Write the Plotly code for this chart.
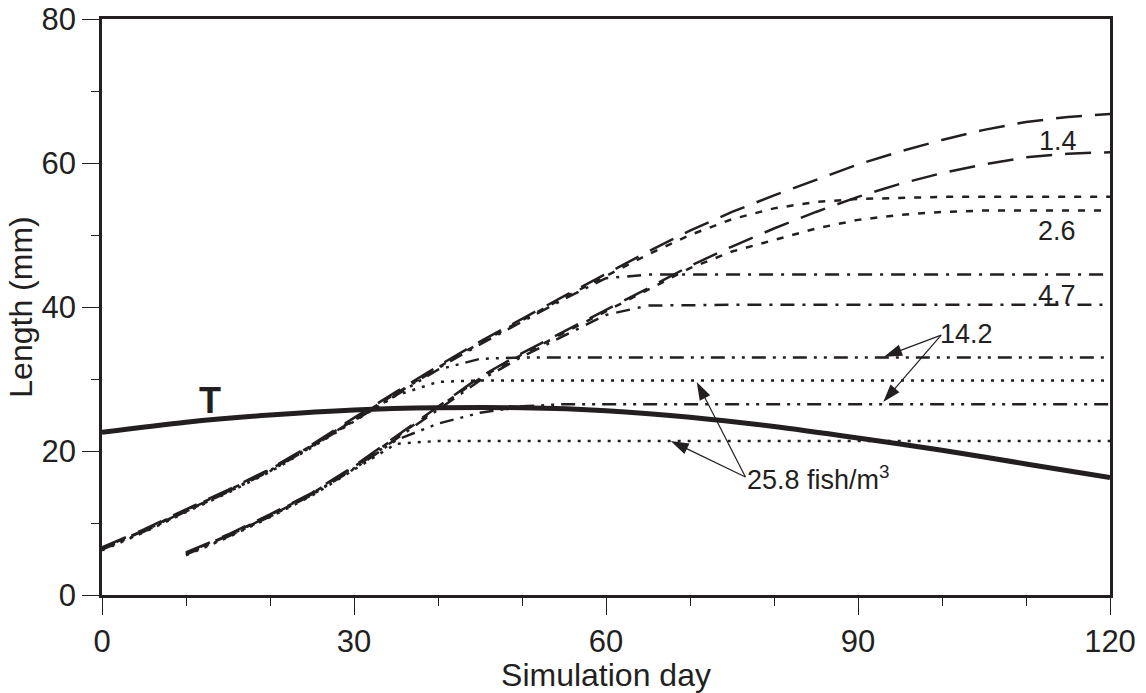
import plotly.graph_objects as go

# ---------------- data ----------------
A_DAYS = [0, 5, 10, 15, 20, 25, 30, 35, 40, 45, 50, 55, 60, 65, 70, 75, 80, 85, 90, 95, 100, 105, 110, 115, 120]
A_1_4 = [6.6, 9.1, 11.9, 14.6, 17.5, 20.9, 24.6, 28.2, 31.8, 35.2, 38.4, 41.5, 44.6, 47.7, 50.6, 53.2, 55.5, 57.7, 59.8, 61.6, 63.2, 64.6, 65.7, 66.4, 66.8]
A_2_6 = [6.5, 9.0, 11.8, 14.5, 17.4, 20.8, 24.4, 28.0, 31.6, 35.0, 38.2, 41.3, 44.3, 47.3, 50.0, 52.2, 53.7, 54.6, 55.0, 55.2, 55.3, 55.3, 55.3, 55.3, 55.3]
A_4_7 = [6.4, 8.9, 11.7, 14.4, 17.3, 20.7, 24.3, 27.9, 31.5, 34.8, 38.0, 41.1, 44.0, 44.5, 44.5, 44.5, 44.5, 44.5, 44.5, 44.5, 44.5, 44.5, 44.5, 44.5, 44.5]
A_14_2 = [6.3, 8.8, 11.6, 14.3, 17.2, 20.6, 24.2, 27.8, 31.3, 32.8, 33.0, 33.0, 33.0, 33.0, 33.0, 33.0, 33.0, 33.0, 33.0, 33.0, 33.0, 33.0, 33.0, 33.0, 33.0]
A_25_8 = [6.2, 8.7, 11.5, 14.2, 17.1, 20.5, 24.1, 27.7, 29.6, 29.8, 29.8, 29.8, 29.8, 29.8, 29.8, 29.8, 29.8, 29.8, 29.8, 29.8, 29.8, 29.8, 29.8, 29.8, 29.8]

B_DAYS = [10, 15, 20, 25, 30, 35, 40, 45, 50, 55, 60, 65, 70, 75, 80, 85, 90, 95, 100, 105, 110, 115, 120]
B_1_4 = [5.9, 8.4, 11.2, 14.2, 17.9, 22.0, 26.2, 30.3, 33.6, 36.6, 39.5, 42.6, 45.7, 48.4, 50.9, 53.2, 55.3, 57.1, 58.6, 59.8, 60.8, 61.3, 61.5]
B_2_6 = [5.8, 8.3, 11.1, 14.1, 17.8, 21.9, 26.0, 30.1, 33.4, 36.4, 39.3, 42.4, 45.4, 47.7, 49.3, 50.9, 52.1, 52.8, 53.2, 53.4, 53.4, 53.4, 53.4]
B_4_7 = [5.7, 8.2, 11.0, 14.0, 17.6, 21.7, 25.8, 29.8, 33.1, 36.0, 38.9, 40.2, 40.3, 40.3, 40.3, 40.3, 40.3, 40.3, 40.3, 40.3, 40.3, 40.3, 40.3]
B_14_2 = [5.6, 8.1, 10.9, 13.9, 17.5, 21.5, 23.8, 25.3, 26.2, 26.5, 26.5, 26.5, 26.5, 26.5, 26.5, 26.5, 26.5, 26.5, 26.5, 26.5, 26.5, 26.5, 26.5]
B_25_8 = [5.5, 8.0, 10.8, 13.8, 17.4, 21.0, 21.4, 21.4, 21.4, 21.4, 21.4, 21.4, 21.4, 21.4, 21.4, 21.4, 21.4, 21.4, 21.4, 21.4, 21.4, 21.4, 21.4]

T_DAYS = [0, 10, 20, 30, 40, 50, 60, 70, 80, 90, 100, 110, 120]
T_VALUES = [22.6, 24.0, 25.0, 25.7, 26.0, 26.0, 25.6, 24.7, 23.4, 21.8, 20.1, 18.2, 16.3]

DENSITY_LABELS = ["1.4", "2.6", "4.7", "14.2", "25.8 fish/m<sup>3</sup>"]
X_TICKS = [0, 30, 60, 90, 120]
Y_TICKS = [0, 20, 40, 60, 80]

# ---------------- styling ----------------
INK = "#231f20"
FONT = "Liberation Sans, Arial, Helvetica, sans-serif"
DASHES = {
    "1.4": "26px,13px",
    "2.6": "7px,9px",
    "4.7": "14px,8px,3px,8px",
    "14.2": "14px,7px,3px,7px,3px,7px",
    "25.8": "3px,7px",
}

fig = go.Figure()

series = [
    (A_DAYS, A_1_4, "1.4"), (A_DAYS, A_2_6, "2.6"), (A_DAYS, A_4_7, "4.7"),
    (A_DAYS, A_14_2, "14.2"), (A_DAYS, A_25_8, "25.8"),
    (B_DAYS, B_1_4, "1.4"), (B_DAYS, B_2_6, "2.6"), (B_DAYS, B_4_7, "4.7"),
    (B_DAYS, B_14_2, "14.2"), (B_DAYS, B_25_8, "25.8"),
]
for xs, ys, key in series:
    fig.add_trace(go.Scatter(
        x=xs, y=ys, mode="lines", name=key, showlegend=False, hoverinfo="skip",
        line=dict(color=INK, width=2.5, dash=DASHES[key]),
    ))

fig.add_trace(go.Scatter(
    x=T_DAYS, y=T_VALUES, mode="lines", name="T", showlegend=False, hoverinfo="skip",
    line=dict(color=INK, width=5, shape="spline", smoothing=0.8),
))

# pointer arrows from the labels to the curves: (tail_x, tail_y) -> (head_x, head_y)
arrows = [
    (99.9, 36.1, 93.1, 33.1),
    (99.9, 36.1, 93.0, 26.8),
    (76.6, 16.4, 67.7, 21.4),
    (76.6, 16.4, 70.8, 29.6),
]
for tx, ty, hx, hy in arrows:
    fig.add_trace(go.Scatter(
        x=[tx, hx], y=[ty, hy], mode="lines+markers", showlegend=False, hoverinfo="skip",
        line=dict(color=INK, width=1.2),
        marker=dict(symbol="arrow", size=[0, 19], angleref="previous",
                    color=INK, opacity=1, line=dict(width=0)),
    ))

annotations = []
# density labels
annotations.append(dict(x=113.8, y=63.1, text=DENSITY_LABELS[0]))
annotations.append(dict(x=113.7, y=50.6, text=DENSITY_LABELS[1]))
annotations.append(dict(x=113.7, y=41.6, text=DENSITY_LABELS[2]))
annotations.append(dict(x=102.9, y=36.2, text=DENSITY_LABELS[3]))
annotations.append(dict(x=76.5, y=16.3, text=DENSITY_LABELS[4], xanchor="left"))
for a in annotations:
    a.update(xref="x", yref="y", showarrow=False,
             font=dict(family=FONT, size=27, color=INK))
    a.setdefault("xanchor", "center")
    a["yanchor"] = "middle"

# T label
annotations.append(dict(x=12.8, y=27.0, xref="x", yref="y", text="<b>T</b>",
                        showarrow=False, font=dict(family=FONT, size=36, color=INK)))

axis_common = dict(
    showline=True, linewidth=2.5, linecolor=INK, mirror=True,
    showgrid=False, zeroline=False, automargin=False,
    ticklabeloverflow="allow",
    ticks="outside", ticklen=17, tickwidth=1.2, tickcolor=INK,
    tickfont=dict(family=FONT, size=31, color=INK),
)

fig.update_layout(
    width=1146, height=693,
    paper_bgcolor="white", plot_bgcolor="white",
    margin=dict(l=102, r=36, t=19, b=98),
    xaxis=dict(
        range=[0, 120], tickvals=X_TICKS,
        minor=dict(tick0=0, dtick=10, ticks="outside", ticklen=8, tickwidth=1, tickcolor=INK),
        title=dict(text="Simulation day", font=dict(family=FONT, size=32, color=INK), standoff=1),
        **axis_common,
    ),
    yaxis=dict(
        range=[0, 80], tickvals=Y_TICKS,
        minor=dict(tick0=0, dtick=10, ticks="outside", ticklen=8, tickwidth=1, tickcolor=INK),
        title=dict(text="Length (mm)", font=dict(family=FONT, size=32, color=INK), standoff=0),
        **axis_common,
    ),
    annotations=annotations,
    showlegend=False,
)

# remove the browser's default 8px page margin so the figure fills the window
fig.write_html("out.html", config={"displayModeBar": False},
               post_script="document.body.style.margin='0px';")
